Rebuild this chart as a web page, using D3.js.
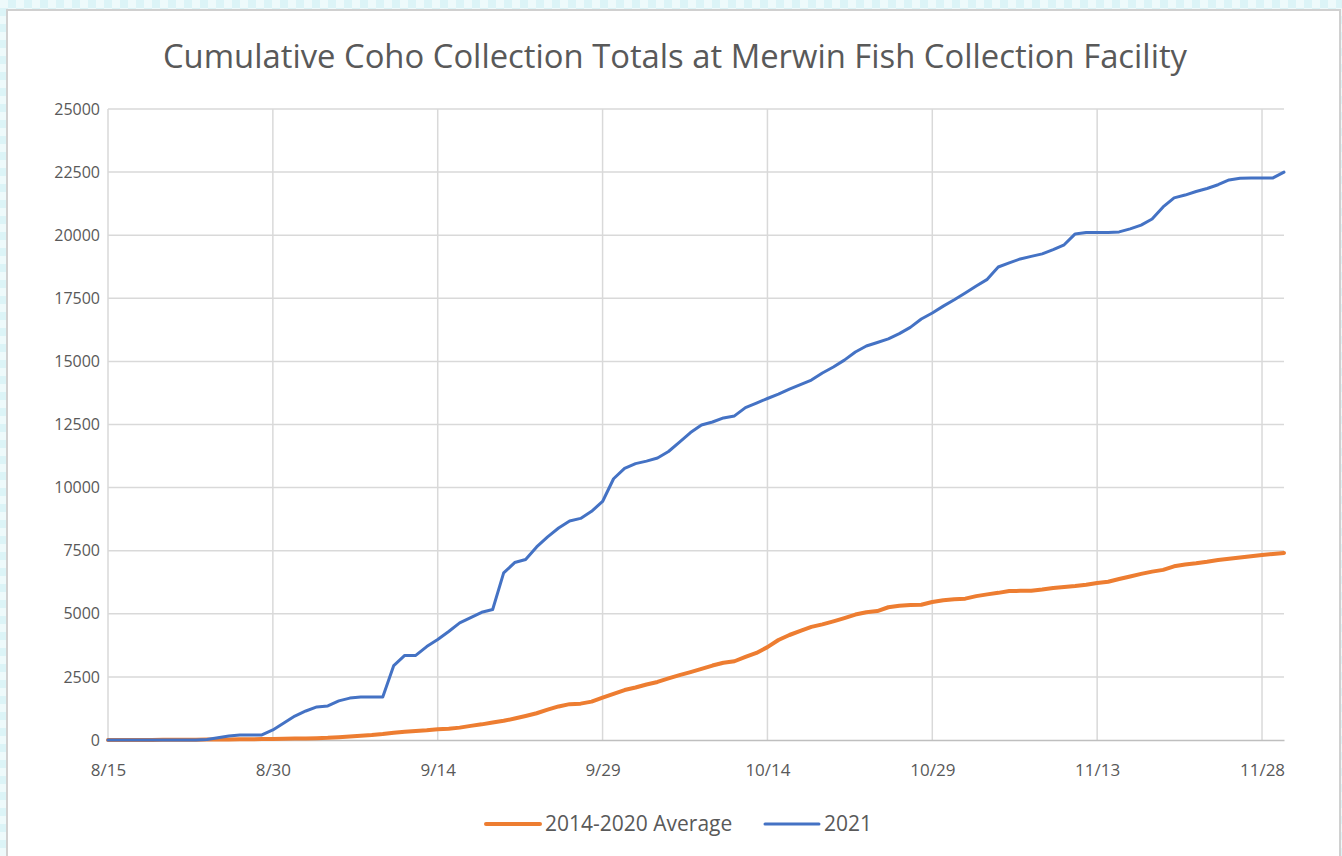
<!DOCTYPE html>
<html>
<head>
<meta charset="utf-8">
<script src="https://cdn.jsdelivr.net/npm/d3@7"></script>
<style>
  html, body { margin: 0; padding: 0; }
  body { width: 1342px; height: 856px; overflow: hidden; background: #e4f7f9; }
  svg { display: block; }
</style>
</head>
<body>
<svg id="chart"></svg>
<script>
const width = 1342
const height = 856

// daily cumulative counts, 8/15 through 11/30
const startDate = new Date(Date.UTC(2021, 7, 15))
const endDate = new Date(Date.UTC(2021, 10, 30))
const days = d3.utcDay.range(startDate, d3.utcDay.offset(endDate, 1))

const avgValues = [
  0, 0, 0, 0, 0, 5, 5, 10, 10, 15,
  15, 20, 25, 30, 35, 40, 45, 55, 60, 70,
  85, 110, 140, 170, 200, 240, 290, 330, 360, 390,
  430, 450, 490, 560, 620, 690, 760, 850, 950, 1060,
  1200, 1330, 1420, 1440, 1520, 1680, 1830, 1980, 2080, 2200,
  2300, 2440, 2570, 2690, 2820, 2950, 3060, 3120, 3290, 3450,
  3680, 3960, 4160, 4320, 4480, 4580, 4700, 4830, 4970, 5060,
  5110, 5260, 5320, 5350, 5360, 5470, 5540, 5580, 5600, 5700,
  5770, 5830, 5900, 5910, 5910, 5960, 6020, 6060, 6100, 6150,
  6220, 6270, 6380, 6480, 6580, 6670, 6740, 6880, 6950, 7000,
  7060, 7130, 7180, 7230, 7280, 7330, 7370, 7410
]

const values2021 = [
  0, 0, 0, 0, 0, 0, 0, 0, 0, 20,
  90, 160, 200, 200, 200, 400, 670, 950, 1150, 1310,
  1350, 1550, 1660, 1700, 1700, 1700, 2950, 3350, 3350, 3700,
  3980, 4300, 4640, 4850, 5060, 5170, 6620, 7030, 7150, 7650,
  8050, 8400, 8680, 8780, 9060, 9450, 10350, 10760, 10950, 11050,
  11170, 11430, 11800, 12180, 12480, 12600, 12760, 12840, 13170, 13350,
  13530, 13700, 13900, 14080, 14260, 14540, 14780, 15050, 15370, 15610,
  15750, 15890, 16100, 16350, 16680, 16920, 17190, 17440, 17710, 17990,
  18250, 18740, 18900, 19060, 19160, 19260, 19430, 19620, 20050, 20110,
  20110, 20110, 20130, 20250, 20400, 20640, 21120, 21480, 21590, 21730,
  21850, 22000, 22190, 22260, 22270, 22270, 22270, 22500
]

const xTickLabels = ['8/15', '8/30', '9/14', '9/29', '10/14', '10/29', '11/13', '11/28']
const yTicks = [0, 2500, 5000, 7500, 10000, 12500, 15000, 17500, 20000, 22500, 25000]

const seriesNames = ['2014-2020 Average', '2021']
const seriesColors = ['#ed7d31', '#4472c4']

const font = '"Open Sans", "Noto Sans", sans-serif'
const textColor = '#595959'

const svg = d3.select('#chart').attr('width', width).attr('height', height)

// checkered light background around the chart box
const defs = svg.append('defs')
const pat = defs.append('pattern')
  .attr('id', 'bg')
  .attr('width', 16)
  .attr('height', 16)
  .attr('patternUnits', 'userSpaceOnUse')
pat.append('rect').attr('width', 16).attr('height', 16).attr('fill', '#dcf4f7')
pat.append('rect').attr('width', 8).attr('height', 8).attr('fill', '#eefafb')
pat.append('rect').attr('x', 8).attr('y', 8).attr('width', 8).attr('height', 8).attr('fill', '#eefafb')
svg.append('rect').attr('width', width).attr('height', height).attr('fill', 'url(#bg)')

// chart box
svg.append('rect')
  .attr('x', 7).attr('y', 10)
  .attr('width', 1333).attr('height', 860)
  .attr('fill', '#fff')
  .attr('stroke', '#d0d0d0')
  .attr('stroke-width', 2)

const margin = { left: 108, right: 1284, top: 109, bottom: 740 }

const x = d3.scaleUtc().domain([startDate, endDate]).range([margin.left, margin.right])
const y = d3.scaleLinear().domain([0, 25000]).range([margin.bottom, margin.top])

const tickDates = xTickLabels.map((d) => {
  const p = d.split('/')
  return new Date(Date.UTC(2021, +p[0] - 1, +p[1]))
})

// gridlines
svg.append('g')
  .selectAll('line')
  .data(yTicks.slice(1))
  .join('line')
  .attr('x1', margin.left).attr('x2', margin.right)
  .attr('y1', (d) => y(d)).attr('y2', (d) => y(d))
  .attr('stroke', '#d9d9d9')
  .attr('stroke-width', 1.5)

svg.append('g')
  .selectAll('line')
  .data(tickDates)
  .join('line')
  .attr('x1', (d) => x(d)).attr('x2', (d) => x(d))
  .attr('y1', margin.top).attr('y2', margin.bottom)
  .attr('stroke', '#d9d9d9')
  .attr('stroke-width', 1.5)

// axes
const yAxis = svg.append('g')
  .attr('transform', `translate(${margin.left},0)`)
  .call(d3.axisLeft(y).tickValues(yTicks).tickSize(0).tickPadding(8).tickFormat(d3.format('d')))
yAxis.select('.domain').remove()
yAxis.selectAll('text')
  .attr('fill', textColor)
  .style('font-family', font)
  .style('font-size', '16px')

const xAxis = svg.append('g')
  .attr('transform', `translate(0,${margin.bottom})`)
  .call(d3.axisBottom(x).tickValues(tickDates).tickSize(0).tickPadding(24)
    .tickFormat((d, i) => xTickLabels[i]))
xAxis.select('.domain').attr('stroke', '#bfbfbf').attr('stroke-width', 1.5)
xAxis.selectAll('text')
  .attr('fill', textColor)
  .style('font-family', font)
  .style('font-size', '17px')

// lines
const line = d3.line()
  .x((d, i) => x(days[i]))
  .y((d) => y(d))

svg.append('path')
  .datum(avgValues)
  .attr('d', line)
  .attr('fill', 'none')
  .attr('stroke', seriesColors[0])
  .attr('stroke-width', 4)
  .attr('stroke-linejoin', 'round')
  .attr('stroke-linecap', 'round')

svg.append('path')
  .datum(values2021)
  .attr('d', line)
  .attr('fill', 'none')
  .attr('stroke', seriesColors[1])
  .attr('stroke-width', 3)
  .attr('stroke-linejoin', 'round')
  .attr('stroke-linecap', 'round')

// title
svg.append('text')
  .attr('x', 675)
  .attr('y', 68)
  .attr('text-anchor', 'middle')
  .attr('fill', textColor)
  .style('font-family', font)
  .style('font-size', '32.8px')
  .text('Cumulative Coho Collection Totals at Merwin Fish Collection Facility')

// legend
const legendX = [486, 765]
const legend = svg.append('g')
  .selectAll('g')
  .data(seriesNames)
  .join('g')
  .attr('transform', (d, i) => `translate(${legendX[i]},824)`)
legend.append('line')
  .attr('x1', 0).attr('x2', 54)
  .attr('stroke', (d, i) => seriesColors[i])
  .attr('stroke-width', (d, i) => (i === 0 ? 4 : 3))
  .attr('stroke-linecap', 'round')
legend.append('text')
  .attr('x', 59)
  .attr('dy', '0.35em')
  .attr('fill', textColor)
  .style('font-family', font)
  .style('font-size', '21px')
  .text((d) => d)
</script>
</body>
</html>
